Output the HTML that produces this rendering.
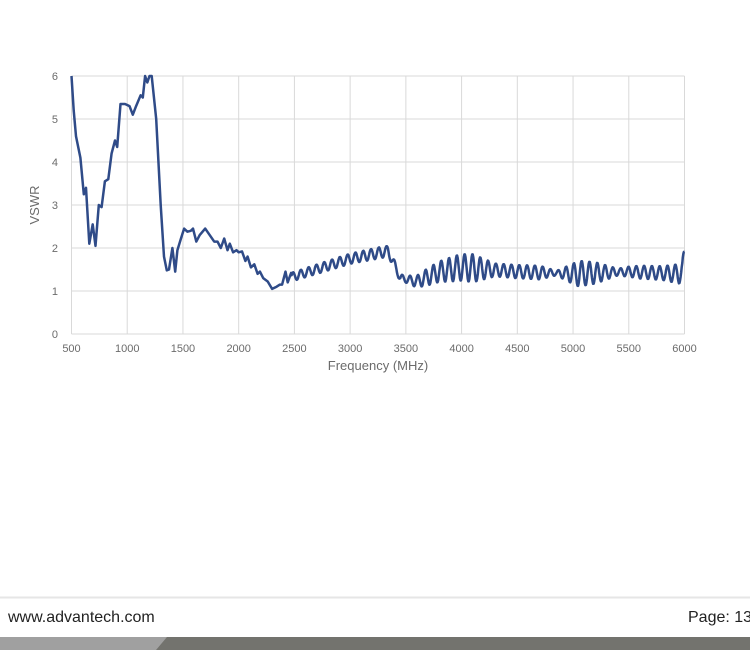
<!DOCTYPE html>
<html><head><meta charset="utf-8"><style>
body{margin:0;width:750px;height:650px;background:#fff;overflow:hidden;position:relative;font-family:"Liberation Sans",sans-serif}
svg{position:absolute;left:0;top:0}
</style></head><body>
<svg id="c" width="750" height="650" xmlns="http://www.w3.org/2000/svg">
<g stroke="#d9d9d9" stroke-width="1" id="grid"></g>
<g font-family="Liberation Sans,sans-serif" font-size="11" fill="#6b6b6b" id="lab"></g>
<text x="39" y="205" transform="rotate(-90 39 205)" font-size="13" fill="#6b6b6b" text-anchor="middle" font-family="Liberation Sans,sans-serif">VSWR</text>
<text x="378" y="370" font-size="13" fill="#6b6b6b" text-anchor="middle" font-family="Liberation Sans,sans-serif">Frequency (MHz)</text>
<path id="p" fill="none" stroke="#2f4b88" stroke-width="2.5" stroke-linejoin="round"/>
<line x1="0" y1="597.5" x2="750" y2="597.5" stroke="#e6e6e6" stroke-width="2"/>
<text x="8" y="622" font-size="16" fill="#222">www.advantech.com</text>
<text x="688" y="622" font-size="16" fill="#222">Page: 13</text>
<rect x="0" y="637" width="750" height="13" fill="#73736e"/>
<polygon points="0,637 167,637 156,650 0,650" fill="#a0a0a0"/>
</svg>
<script>
var X0=71.5,XS=(684.5-71.5)/5500,Y0=334,YS=43;
function px(f){return X0+(f-500)*XS}function py(v){return Y0-v*YS}
var g=document.getElementById('grid'),l=document.getElementById('lab'),h='',t='';
for(var i=0;i<=6;i++){var y=py(i);h+='<line x1="'+X0+'" x2="684.5" y1="'+y+'" y2="'+y+'"/>';t+='<text x="58" y="'+(y+4)+'" text-anchor="end">'+i+'</text>';}
for(var f=500;f<=6000;f+=500){var x=px(f);h+='<line x1="'+x+'" x2="'+x+'" y1="76" y2="334"/>';t+='<text x="'+x+'" y="352" text-anchor="middle">'+f+'</text>';}
g.innerHTML=h;l.innerHTML=t;
var k=[[500,6],[520,5.2],[540,4.6],[580,4.1],[610,3.25],[630,3.4],[660,2.1],[690,2.55],[715,2.05],[745,3.0],[770,2.95],[800,3.55],[830,3.6],[860,4.2],[890,4.5],[910,4.35],[940,5.35],[980,5.35],[1020,5.3],[1050,5.1],[1080,5.3],[1120,5.55],[1140,5.5],[1160,6.0],[1180,5.85],[1200,6.0],[1220,6.0],[1260,5.0],[1300,3.0],[1330,1.8],[1355,1.48],[1375,1.5],[1405,2.0],[1430,1.45],[1450,1.95],[1480,2.2],[1510,2.45],[1540,2.38],[1570,2.4],[1590,2.45],[1620,2.15],[1650,2.3],[1700,2.45],[1740,2.3],[1780,2.15],[1810,2.15],[1840,2.0],[1870,2.22],[1900,1.95],[1920,2.1],[1950,1.9],[1980,1.95],[2000,1.9],[2030,1.92],[2060,1.7],[2080,1.8],[2110,1.55],[2140,1.62],[2170,1.4],[2190,1.45],[2220,1.3],[2260,1.22],[2300,1.05],[2340,1.1],[2370,1.15],[2390,1.15],[2420,1.45],[2440,1.2],[2470,1.42]];
var tr=[[2470,1.32],[3000,1.75],[3340,1.93],[3400,1.6],[3450,1.3],[3600,1.22],[3800,1.45],[4000,1.55],[4500,1.45],[5000,1.4],[5500,1.45],[5950,1.4],[6000,1.5]];
var am=[[2470,0.1],[3300,0.13],[3400,0.1],[3500,0.08],[3700,0.2],[3950,0.3],[4100,0.33],[4300,0.15],[4700,0.16],[4850,0.05],[5050,0.3],[5200,0.25],[5400,0.08],[5600,0.15],[5800,0.16],[6000,0.25]];
function ip(a,f){for(var i=0;i<a.length-1;i++){if(f<=a[i+1][0]){var r=(f-a[i][0])/(a[i+1][0]-a[i][0]);return a[i][1]+r*(a[i+1][1]-a[i][1]);}}return a[a.length-1][1];}
var d='';k.forEach(function(p,i){d+=(i?'L':'M')+px(p[0]).toFixed(1)+' '+py(p[1]).toFixed(1)});
for(var f=2475;f<=6000;f+=5){var v=ip(tr,f)+ip(am,f)*Math.sin((f-2470)/70*2*Math.PI);if(f>=5980)v+=(f-5980)*0.015;d+='L'+px(f).toFixed(1)+' '+py(v).toFixed(1);}
document.getElementById('p').setAttribute('d',d);
</script>
</body></html>
